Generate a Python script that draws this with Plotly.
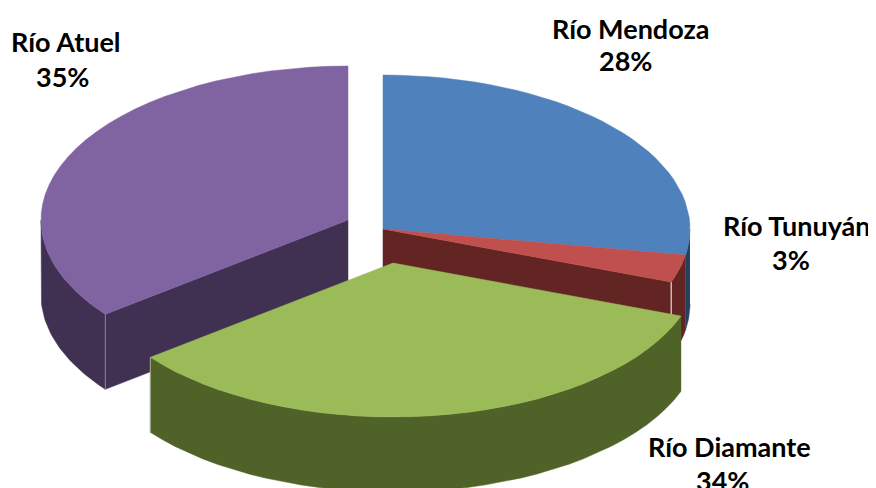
import numpy as np
import plotly.graph_objects as go

names = ["Río Mendoza", "Río Tunuyán", "Río Diamante", "Río Atuel"]
values = [27.7, 2.9, 33.9, 35.49]
top_colors = ["#4f81bd", "#c0504d", "#9bbb59", "#8064a2"]
wall_colors = ["#254061", "#632523", "#4f6228", "#403152"]
apexes = [(383, 229), (383, 229), (393, 263), (348, 220)]
name_pos = [(631, 28), (797, 225), (729, 446), (66, 41)]
pct_pos = [(625, 60), (791, 259), (722, 480), (62, 76)]

RX, RY, DEPTH = 307, 154, 75
edges = np.concatenate([[0], np.cumsum(values)]) / sum(values) * 2 * np.pi


def arc(apex, t0, t1, drop=0, n=36):
    t = np.linspace(t0, t1, n)
    return apex[0] + RX * np.sin(t), apex[1] - RY * np.cos(t) + drop


def poly(fig, xs, ys, color):
    fig.add_trace(go.Scatter(x=list(xs), y=list(ys), mode="lines", fill="toself",
                             fillcolor=color, line=dict(color=color, width=0.5),
                             hoverinfo="skip", showlegend=False))


def outer_wall(fig, i):
    t0 = max(edges[i], np.pi / 2)
    t1 = min(edges[i + 1], 3 * np.pi / 2)
    if t0 >= t1:
        return
    x, y = arc(apexes[i], t0, t1)
    poly(fig, np.r_[x, x[::-1]], np.r_[y, y[::-1] + DEPTH], wall_colors[i])


def cut_wall(fig, i, t):
    ax, ay = apexes[i]
    x, y = arc(apexes[i], t, t, n=1)
    poly(fig, [ax, x[0], x[0], ax, ax], [ay, y[0], y[0] + DEPTH, ay + DEPTH, ay], wall_colors[i])


def top(fig, i):
    x, y = arc(apexes[i], edges[i], edges[i + 1])
    poly(fig, np.r_[apexes[i][0], x, apexes[i][0]], np.r_[apexes[i][1], y, apexes[i][1]], top_colors[i])


def edge_line(fig, i, t, color):
    x, y = arc(apexes[i], t, t, n=1)
    fig.add_trace(go.Scatter(x=[x[0], x[0]], y=[y[0], y[0] + DEPTH], mode="lines",
                             line=dict(color=color, width=1), hoverinfo="skip", showlegend=False))


fig = go.Figure()

# Atuel
cut_wall(fig, 3, edges[3])
outer_wall(fig, 3)
edge_line(fig, 3, edges[3], "#8e7fa0")
top(fig, 3)

# Mendoza + Tunuyán
outer_wall(fig, 0)
outer_wall(fig, 1)
cut_wall(fig, 1, edges[2])
edge_line(fig, 1, edges[2], "#ffffff")
top(fig, 0)
top(fig, 1)

# Diamante
outer_wall(fig, 2)
edge_line(fig, 2, edges[3], "#a3ad8c")
top(fig, 2)

font = dict(family="Lato, Carlito, sans-serif", size=27, color="#000000")
annotations = []
for name, v, (nx, ny), (px, py) in zip(names, values, name_pos, pct_pos):
    annotations.append(dict(x=nx, y=ny, text=f"<b>{name}</b>", showarrow=False, font=font,
                            xanchor="center", yanchor="middle"))
    annotations.append(dict(x=px, y=py, text=f"<b>{round(v)}%</b>", showarrow=False, font=font,
                            xanchor="center", yanchor="middle"))

# The page body has an 8px margin, so the plot area covers pixels 8..876 and 8..488.
fig.update_layout(
    width=868, height=480, margin=dict(l=0, r=0, t=0, b=0),
    paper_bgcolor="#ffffff", plot_bgcolor="#ffffff",
    xaxis=dict(range=[8, 876], visible=False, fixedrange=True),
    yaxis=dict(range=[488, 8], visible=False, fixedrange=True),
    annotations=annotations, showlegend=False,
)
fig.write_html("out.html", config={"displayModeBar": False})
